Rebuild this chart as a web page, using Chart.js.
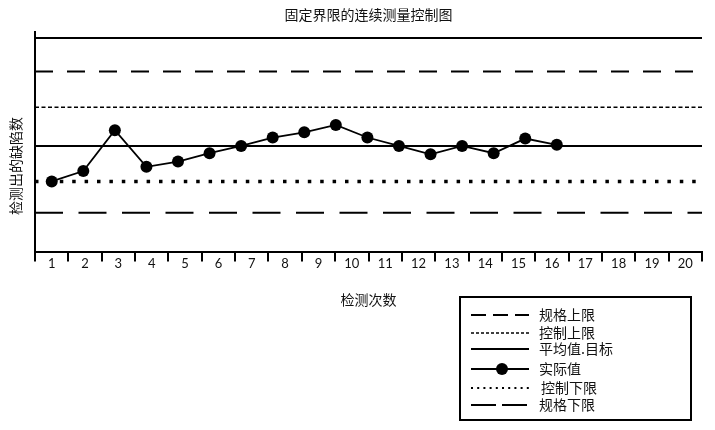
<!DOCTYPE html>
<html>
<head>
<meta charset="utf-8">
<title>固定界限的连续测量控制图</title>
<script src="https://cdn.jsdelivr.net/npm/chart.js@4/dist/chart.umd.min.js"></script>
<style>
  html, body { margin: 0; padding: 0; background: #fff; }
  #wrap { width: 715px; height: 430px; }
</style>
</head>
<body>
<div id="wrap"><canvas id="controlChart"></canvas></div>
<script>
// chart data
const chartTitle = "固定界限的连续测量控制图";
const xAxisTitle = "检测次数";
const yAxisTitle = "检测出的缺陷数";

const tickLabels = ["1", "2", "3", "4", "5", "6", "7", "8", "9", "10",
  "11", "12", "13", "14", "15", "16", "17", "18", "19", "20"];

// measured defects per run (17 runs drawn)
const runNumbers = [1, 2, 3, 4, 5, 6, 7, 8, 9, 10, 11, 12, 13, 14, 15, 16, 17];
const actualValues = [6.7, 7.7, 11.6, 8.1, 8.6, 9.4, 10.1, 10.9, 11.4, 12.1,
  10.9, 10.1, 9.3, 10.1, 9.4, 10.8, 10.2];

// fixed limits
const limitLabels = ["规格上限", "控制上限", "平均值.目标", "控制下限", "规格下限"];
const limitValues = [17.2, 13.8, 10.1, 6.7, 3.7];
const frameTop = 20.4;

const yMin = 0, yMax = 21;
const runMin = 0.47, runMax = 21.6;

// helpers
const flatLine = (v) => [{ x: runMin, y: v }, { x: runMax, y: v }];
const FONT = 'Lato, "Noto Sans CJK SC", sans-serif';
const CJK = '"Noto Sans CJK SC", sans-serif';

// plot dash + the (shorter) dash used in the legend sample
const limitStyle = [
  { borderDash: [18, 14], borderWidth: 2, legendDash: [15, 7], legendWidth: 2 },
  { borderDash: [4, 2.5], borderWidth: 1.5, legendDash: [3, 2], legendWidth: 1.5 },
  { borderDash: [], borderWidth: 2, legendDash: [], legendWidth: 2 },
  { borderDash: [3.5, 8.9], borderWidth: 3.5, legendDash: [2, 4.2], legendWidth: 2 },
  { borderDash: [28, 15.5], borderWidth: 2, legendDash: [25, 6], legendWidth: 2 }
];

function limitSet(i) {
  return {
    label: limitLabels[i],
    data: flatLine(limitValues[i]),
    xAxisID: "xRun",
    borderColor: "#000",
    borderWidth: limitStyle[i].borderWidth,
    borderDash: limitStyle[i].borderDash,
    legendDash: limitStyle[i].legendDash,
    legendWidth: limitStyle[i].legendWidth,
    pointRadius: 0,
    inLegend: true
  };
}

const datasets = [
  {
    label: "frame",
    data: flatLine(frameTop),
    xAxisID: "xRun",
    borderColor: "#000",
    borderWidth: 2,
    pointRadius: 0
  },
  limitSet(0),
  limitSet(1),
  limitSet(2),
  {
    label: "实际值",
    data: runNumbers.map((r, i) => ({ x: r, y: actualValues[i] })),
    xAxisID: "xRun",
    borderColor: "#000",
    backgroundColor: "#000",
    borderWidth: 1.8,
    pointRadius: 6,
    pointBackgroundColor: "#000",
    pointBorderWidth: 0,
    legendDash: [],
    legendWidth: 2,
    inLegend: true
  },
  limitSet(3),
  limitSet(4)
];

// boxed legend in the lower right
const boxLegend = {
  id: "boxLegend",
  afterDraw(chart) {
    const ctx = chart.ctx;
    const rows = [315, 333, 349, 369, 388, 405];
    const items = chart.data.datasets.filter(d => d.inLegend);
    ctx.save();
    ctx.strokeStyle = "#000";
    ctx.lineWidth = 2;
    ctx.setLineDash([]);
    ctx.strokeRect(460, 297, 231, 123);
    items.forEach((ds, i) => {
      const y = rows[i];
      ctx.setLineDash(ds.legendDash || []);
      ctx.lineWidth = ds.legendWidth;
      ctx.beginPath();
      ctx.moveTo(471, y);
      ctx.lineTo(529, y);
      ctx.stroke();
      ctx.setLineDash([]);
      if (ds.pointRadius) {
        ctx.fillStyle = "#000";
        ctx.beginPath();
        ctx.arc(502, y, ds.pointRadius, 0, Math.PI * 2);
        ctx.fill();
      }
      ctx.fillStyle = "#111";
      ctx.font = "14px " + CJK;
      ctx.textAlign = "left";
      ctx.textBaseline = "middle";
      ctx.fillText(ds.label, i === 4 ? 541 : 539, y);
    });
    ctx.restore();
  }
};

// y axis title, sits a bit lower than the axis centre
const sideTitle = {
  id: "sideTitle",
  afterDraw(chart) {
    const ctx = chart.ctx;
    ctx.save();
    ctx.translate(16, 166);
    ctx.rotate(-Math.PI / 2);
    ctx.fillStyle = "#111";
    ctx.font = "14px " + CJK;
    ctx.textAlign = "center";
    ctx.textBaseline = "middle";
    ctx.fillText(yAxisTitle, 0, 0);
    ctx.restore();
  }
};

new Chart(document.getElementById("controlChart"), {
  type: "line",
  data: { labels: tickLabels, datasets: datasets },
  plugins: [boxLegend, sideTitle],
  options: {
    responsive: true,
    maintainAspectRatio: false,
    animation: false,
    layout: { padding: { left: 35, right: 13, top: 0, bottom: 118 } },
    plugins: {
      legend: { display: false },
      tooltip: { enabled: false },
      title: {
        display: true,
        text: chartTitle,
        color: "#111",
        font: { family: CJK, size: 14, weight: "normal" },
        padding: { top: 6, bottom: 9 }
      }
    },
    scales: {
      x: {
        type: "category",
        offset: true,
        grid: {
          display: true,
          drawOnChartArea: false,
          drawTicks: true,
          tickLength: 10,
          offset: true,
          color: "#000",
          lineWidth: 2
        },
        border: { display: true, color: "#000", width: 2 },
        ticks: {
          color: "#111",
          padding: -6,
          maxRotation: 0,
          autoSkip: false,
          font: { family: FONT, size: 13 }
        },
        title: {
          display: true,
          text: xAxisTitle,
          color: "#111",
          font: { family: CJK, size: 14 },
          padding: { top: 26, bottom: 4 }
        }
      },
      xRun: {
        type: "linear",
        display: false,
        min: runMin,
        max: runMax
      },
      y: {
        type: "linear",
        min: yMin,
        max: yMax,
        grid: { display: false, drawTicks: false },
        border: { display: true, color: "#000", width: 2 },
        ticks: { display: false }
      }
    }
  }
});
</script>
</body>
</html>
